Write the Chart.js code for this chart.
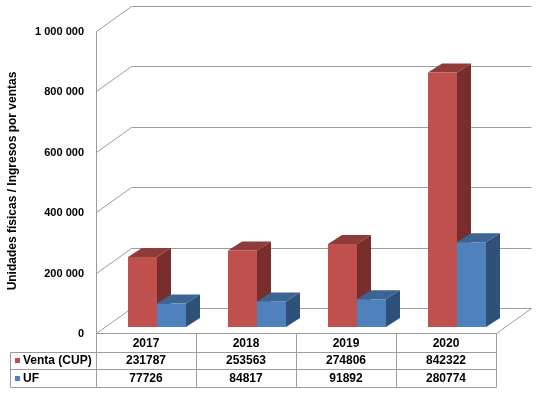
<!DOCTYPE html>
<html>
<head>
<meta charset="utf-8">
<script src="https://cdn.jsdelivr.net/npm/chart.js@4/dist/chart.umd.min.js"></script>
<style>
html,body{margin:0;padding:0;background:#fff;}
#wrap{position:relative;width:538px;height:398px;}
</style>
</head>
<body>
<div id="wrap"><canvas id="c"></canvas></div>
<script>
const categories = ['2017', '2018', '2019', '2020'];
const seriesNames = ['Venta (CUP)', 'UF'];
const ventaValues = [231787, 253563, 274806, 842322];
const ufValues = [77726, 84817, 91892, 280774];
const yTickValues = [0, 200000, 400000, 600000, 800000, 1000000];
const yTickLabels = ['0', '200 000', '400 000', '600 000', '800 000', '1 000 000'];
const axisTitle = 'Unidades físicas / Ingresos por ventas';

const frontColors = ['#C0504D', '#4F81BD'];
const topColors = ['#8E3B39', '#3D6593'];
const sideColors = ['#782E2C', '#2F5079'];
const keyColors = ['#C0504D', '#4F81BD'];
const GRID = '#9c9c9c';
const FONT = 'Arial, "Liberation Sans", sans-serif';

// geometry (pixels)
const FRONT_DX = -11, FRONT_DY = 6;   // bar plane -> front plane of floor/walls
const WALL_DX = 35, WALL_DY = -25;    // floor depth
const BAR_DX = 14, BAR_DY = -9;       // bar depth

function crisp(v){ return Math.round(v) + 0.5; }

const threeD = {
  id: 'threeD',
  beforeDraw(chart){
    const ctx = chart.ctx;
    ctx.save();
    ctx.fillStyle = '#fff';
    ctx.fillRect(0, 0, chart.width, chart.height);
    ctx.restore();
  },
  beforeDatasetsDraw(chart){
    const {ctx, chartArea: ca, scales} = chart;
    const xs = scales.x, ys = scales.y;
    const fl = ca.left + FRONT_DX, fr = ca.right + FRONT_DX;
    const fy = v => ys.getPixelForValue(v) + FRONT_DY;
    ctx.save();
    ctx.strokeStyle = GRID;
    ctx.lineWidth = 1;
    // gridlines: left wall diagonals + back wall horizontals
    yTickValues.forEach(v => {
      const y0 = crisp(fy(v));
      const y1 = crisp(fy(v) + WALL_DY);
      ctx.beginPath();
      ctx.moveTo(crisp(fl), y0);
      ctx.lineTo(crisp(fl + WALL_DX), y1);
      ctx.lineTo(crisp(fr + WALL_DX), y1);
      ctx.stroke();
    });
    // floor right diagonal
    const yf0 = crisp(fy(0));
    ctx.beginPath();
    ctx.moveTo(crisp(fr), yf0);
    ctx.lineTo(crisp(fr + WALL_DX), crisp(fy(0) + WALL_DY));
    ctx.stroke();

    // table geometry
    const rowTops = [yf0, 352.5, 369.5, 387.5];
    const tableLeft = 10.5;
    // vertical axis line continues through table
    ctx.beginPath();
    ctx.moveTo(crisp(fl), crisp(fy(yTickValues[yTickValues.length - 1])));
    ctx.lineTo(crisp(fl), rowTops[3]);
    ctx.stroke();
    // header row top (floor front edge)
    ctx.beginPath();
    ctx.moveTo(crisp(fl), yf0);
    ctx.lineTo(crisp(fr), yf0);
    ctx.stroke();
    // data row lines
    [rowTops[1], rowTops[2], rowTops[3]].forEach(y => {
      ctx.beginPath();
      ctx.moveTo(tableLeft, y);
      ctx.lineTo(crisp(fr), y);
      ctx.stroke();
    });
    ctx.beginPath();
    ctx.moveTo(tableLeft, rowTops[1]);
    ctx.lineTo(tableLeft, rowTops[3]);
    ctx.stroke();
    // category boundaries
    const step = (ca.right - ca.left) / categories.length;
    for (let i = 0; i <= categories.length; i++) {
      const xb = crisp(xs.getPixelForValue(0) - step / 2 + i * step + FRONT_DX);
      ctx.beginPath();
      ctx.moveTo(xb, yf0);
      ctx.lineTo(xb, rowTops[3]);
      ctx.stroke();
    }

    // tick labels
    ctx.fillStyle = '#000';
    ctx.font = 'bold 11px ' + FONT;
    ctx.textAlign = 'right';
    ctx.textBaseline = 'middle';
    yTickValues.forEach((v, i) => {
      ctx.fillText(yTickLabels[i], 84, fy(v) + 1);
    });

    // axis title
    ctx.save();
    ctx.translate(13, 181);
    ctx.rotate(-Math.PI / 2);
    ctx.font = 'bold 12px ' + FONT;
    ctx.textAlign = 'center';
    ctx.textBaseline = 'middle';
    ctx.fillText(axisTitle, 0, 0);
    ctx.restore();

    // table text
    ctx.font = 'bold 12px ' + FONT;
    ctx.textAlign = 'center';
    ctx.textBaseline = 'middle';
    const series = [ventaValues, ufValues];
    categories.forEach((c, j) => {
      const cx = xs.getPixelForValue(j) + FRONT_DX;
      ctx.fillText(c, cx, 343.5);
      series.forEach((vals, i) => {
        ctx.fillText(String(vals[j]), cx, i === 0 ? 361 : 378.5);
      });
    });
    ctx.textAlign = 'left';
    seriesNames.forEach((n, i) => {
      const yc = i === 0 ? 361 : 378.5;
      ctx.fillStyle = keyColors[i];
      ctx.fillRect(15, Math.round(yc) - 3, 5, 5);
      ctx.fillStyle = '#000';
      ctx.fillText(n, 23, yc);
    });

    // bar tops and sides (front faces drawn by Chart.js afterwards)
    categories.forEach((c, j) => {
      chart.data.datasets.forEach((ds, i) => {
        const el = chart.getDatasetMeta(i).data[j];
        const l = el.x - el.width / 2, r = el.x + el.width / 2;
        const t = el.y, b = el.base;
        ctx.fillStyle = topColors[i];
        ctx.beginPath();
        ctx.moveTo(l, t);
        ctx.lineTo(r, t);
        ctx.lineTo(r + BAR_DX, t + BAR_DY);
        ctx.lineTo(l + BAR_DX, t + BAR_DY);
        ctx.closePath();
        ctx.fill();
        ctx.fillStyle = sideColors[i];
        ctx.beginPath();
        ctx.moveTo(r, t);
        ctx.lineTo(r + BAR_DX, t + BAR_DY);
        ctx.lineTo(r + BAR_DX, b + BAR_DY);
        ctx.lineTo(r, b);
        ctx.closePath();
        ctx.fill();
      });
    });
    ctx.restore();
  }
};

new Chart(document.getElementById('c'), {
  type: 'bar',
  data: {
    labels: categories,
    datasets: [
      { label: seriesNames[0], data: ventaValues, backgroundColor: frontColors[0], borderWidth: 0 },
      { label: seriesNames[1], data: ufValues, backgroundColor: frontColors[1], borderWidth: 0 }
    ]
  },
  options: {
    responsive: true,
    maintainAspectRatio: false,
    animation: false,
    layout: { padding: { left: 107, right: 31, top: 25, bottom: 71 } },
    datasets: { bar: { categoryPercentage: 0.58, barPercentage: 1.0 } },
    plugins: { legend: { display: false }, tooltip: { enabled: false }, title: { display: false } },
    scales: {
      x: { display: false, offset: true },
      y: { display: false, min: 0, max: 1000000, ticks: { stepSize: 200000 } }
    }
  },
  plugins: [threeD]
});
</script>
</body>
</html>
